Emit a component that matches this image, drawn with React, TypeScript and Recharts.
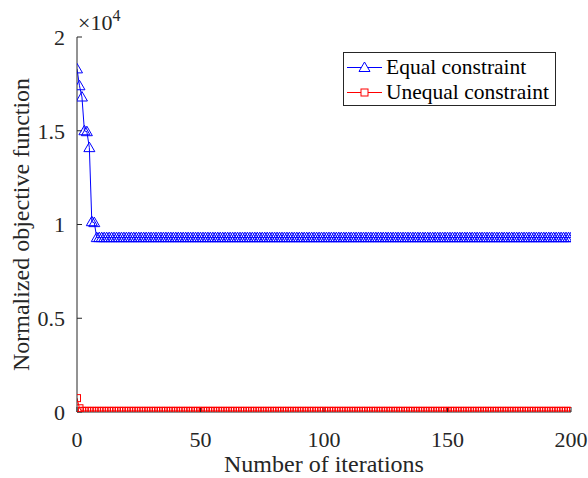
import { LineChart, Line, XAxis, YAxis, Legend, Label } from "recharts";

// normalized objective per iteration (iteration = index, 0..200)
const equalConstraint = [
    18300, 17400, 16800, 15000, 14950, 14100, 10150, 10100, 9300, 9300,
    9300, 9300, 9300, 9300, 9300, 9300, 9300, 9300, 9300, 9300,
    9300, 9300, 9300, 9300, 9300, 9300, 9300, 9300, 9300, 9300,
    9300, 9300, 9300, 9300, 9300, 9300, 9300, 9300, 9300, 9300,
    9300, 9300, 9300, 9300, 9300, 9300, 9300, 9300, 9300, 9300,
    9300, 9300, 9300, 9300, 9300, 9300, 9300, 9300, 9300, 9300,
    9300, 9300, 9300, 9300, 9300, 9300, 9300, 9300, 9300, 9300,
    9300, 9300, 9300, 9300, 9300, 9300, 9300, 9300, 9300, 9300,
    9300, 9300, 9300, 9300, 9300, 9300, 9300, 9300, 9300, 9300,
    9300, 9300, 9300, 9300, 9300, 9300, 9300, 9300, 9300, 9300,
    9300, 9300, 9300, 9300, 9300, 9300, 9300, 9300, 9300, 9300,
    9300, 9300, 9300, 9300, 9300, 9300, 9300, 9300, 9300, 9300,
    9300, 9300, 9300, 9300, 9300, 9300, 9300, 9300, 9300, 9300,
    9300, 9300, 9300, 9300, 9300, 9300, 9300, 9300, 9300, 9300,
    9300, 9300, 9300, 9300, 9300, 9300, 9300, 9300, 9300, 9300,
    9300, 9300, 9300, 9300, 9300, 9300, 9300, 9300, 9300, 9300,
    9300, 9300, 9300, 9300, 9300, 9300, 9300, 9300, 9300, 9300,
    9300, 9300, 9300, 9300, 9300, 9300, 9300, 9300, 9300, 9300,
    9300, 9300, 9300, 9300, 9300, 9300, 9300, 9300, 9300, 9300,
    9300, 9300, 9300, 9300, 9300, 9300, 9300, 9300, 9300, 9300,
    9300,
];

const unequalConstraint = [
    740, 200, 60, 60, 60, 60, 60, 60, 60, 60,
    60, 60, 60, 60, 60, 60, 60, 60, 60, 60,
    60, 60, 60, 60, 60, 60, 60, 60, 60, 60,
    60, 60, 60, 60, 60, 60, 60, 60, 60, 60,
    60, 60, 60, 60, 60, 60, 60, 60, 60, 60,
    60, 60, 60, 60, 60, 60, 60, 60, 60, 60,
    60, 60, 60, 60, 60, 60, 60, 60, 60, 60,
    60, 60, 60, 60, 60, 60, 60, 60, 60, 60,
    60, 60, 60, 60, 60, 60, 60, 60, 60, 60,
    60, 60, 60, 60, 60, 60, 60, 60, 60, 60,
    60, 60, 60, 60, 60, 60, 60, 60, 60, 60,
    60, 60, 60, 60, 60, 60, 60, 60, 60, 60,
    60, 60, 60, 60, 60, 60, 60, 60, 60, 60,
    60, 60, 60, 60, 60, 60, 60, 60, 60, 60,
    60, 60, 60, 60, 60, 60, 60, 60, 60, 60,
    60, 60, 60, 60, 60, 60, 60, 60, 60, 60,
    60, 60, 60, 60, 60, 60, 60, 60, 60, 60,
    60, 60, 60, 60, 60, 60, 60, 60, 60, 60,
    60, 60, 60, 60, 60, 60, 60, 60, 60, 60,
    60, 60, 60, 60, 60, 60, 60, 60, 60, 60,
    60,
];

const xTicks = [0, 50, 100, 150, 200];
const yTicks = [0, 5000, 10000, 15000, 20000];
const yTickLabels = ["0", "0.5", "1", "1.5", "2"];

const FONT = '"Liberation Serif", "Times New Roman", serif';
const AXIS = "#262626";
const BLUE = "#0000ff";
const RED = "#ff0000";

const data = equalConstraint.map((v, i) => ({
    iter: i,
    equal: v,
    unequal: unequalConstraint[i],
}));

const renderTriangle = (props: any) => {
    const { cx, cy, index } = props;
    return (
        <path
            key={`tri-${index}`}
            d={`M${cx},${cy - 5.5}L${cx + 5.5},${cy + 4}L${cx - 5.5},${cy + 4}Z`}
            fill="none"
            stroke={BLUE}
            strokeWidth={1}
        />
    );
};

const renderSquare = (props: any) => {
    const { cx, cy, index } = props;
    return (
        <rect
            key={`sq-${index}`}
            x={cx - 3.5}
            y={cy - 3.5}
            width={7}
            height={7}
            fill="none"
            stroke={RED}
            strokeWidth={1}
        />
    );
};

const legendItems = [
    { name: "Equal constraint", color: BLUE, marker: "tri" },
    { name: "Unequal constraint", color: RED, marker: "sq" },
];

const LegendBox = () => (
    <div
        style={{
            border: `1px solid ${AXIS}`,
            background: "#fff",
            width: 211,
            height: 52,
            fontFamily: FONT,
            fontSize: 21.5,
            color: "#000",
            boxSizing: "content-box",
        }}
    >
        {legendItems.map((item, i) => (
            <div
                key={item.name}
                style={{
                    position: "absolute",
                    left: 1,
                    top: 1 + 2 + i * 25,
                    height: 25,
                    display: "flex",
                    alignItems: "center",
                    whiteSpace: "nowrap",
                }}
            >
                <svg width={40} height={25}>
                    <line x1={3} x2={38} y1={12.5} y2={12.5} stroke={item.color} />
                    {item.marker === "tri" ? (
                        <path d="M20.5,7L26,16.5L15,16.5Z" fill="#fff" stroke={item.color} />
                    ) : (
                        <rect x={17} y={9} width={7} height={7} fill="#fff" stroke={item.color} />
                    )}
                </svg>
                <span style={{ marginLeft: 2, lineHeight: "25px" }}>{item.name}</span>
            </div>
        ))}
    </div>
);

export default function App() {
    return (
        <div style={{ position: "absolute", left: 0, top: 0, width: 588, height: 478, background: "#fff" }}>
            <LineChart
                width={588}
                height={478}
                data={data}
                margin={{ top: 37, right: 17, bottom: 0, left: 0 }}
                style={{ fontFamily: FONT }}
            >
                <XAxis
                    dataKey="iter"
                    type="number"
                    domain={[0, 200]}
                    ticks={xTicks}
                    height={66}
                    tickSize={-5}
                    tickMargin={24}
                    stroke={AXIS}
                    tick={{ fill: "#262626", fontSize: 22, fontFamily: FONT }}
                    allowDataOverflow
                >
                    <Label
                        content={(props: any) => {
                            const vb = props.viewBox;
                            return (
                                <text
                                    x={vb.x + vb.width / 2}
                                    y={472}
                                    textAnchor="middle"
                                    fontSize={24}
                                    fontFamily={FONT}
                                    fill="#262626"
                                >
                                    Number of iterations
                                </text>
                            );
                        }}
                    />
                </XAxis>
                <XAxis
                    xAxisId="top"
                    orientation="top"
                    type="number"
                    domain={[0, 200]}
                    ticks={xTicks}
                    height={0}
                    mirror
                    tickSize={5}
                    stroke={AXIS}
                    tickFormatter={() => ""}
                />
                <YAxis
                    type="number"
                    domain={[0, 20000]}
                    ticks={yTicks}
                    width={77}
                    tickSize={-5}
                    tickMargin={17}
                    stroke={AXIS}
                    tick={{ fill: "#262626", fontSize: 22, fontFamily: FONT }}
                    tickFormatter={(v: number) => yTickLabels[yTicks.indexOf(v)]}
                    allowDataOverflow
                >
                    <Label
                        content={(props: any) => {
                            const vb = props.viewBox;
                            const cy = vb.y + vb.height / 2;
                            return (
                                <text
                                    x={29}
                                    y={cy}
                                    transform={`rotate(-90 29 ${cy})`}
                                    textAnchor="middle"
                                    fontSize={24}
                                    fontFamily={FONT}
                                    fill="#262626"
                                >
                                    Normalized objective function
                                </text>
                            );
                        }}
                    />
                </YAxis>
                <YAxis
                    yAxisId="right"
                    orientation="right"
                    type="number"
                    domain={[0, 20000]}
                    ticks={yTicks}
                    width={0}
                    mirror
                    tickSize={5}
                    stroke={AXIS}
                    tickFormatter={() => ""}
                />
                <Legend
                    layout="vertical"
                    align="center"
                    verticalAlign="middle"
                    content={() => <LegendBox />}
                    wrapperStyle={{ top: 52, left: 343, width: 213, height: 54 }}
                />
                <Line
                    dataKey="equal"
                    name="Equal constraint"
                    stroke={BLUE}
                    strokeWidth={1}
                    dot={renderTriangle}
                    activeDot={false}
                    isAnimationActive={false}
                />
                <Line
                    dataKey="unequal"
                    name="Unequal constraint"
                    stroke={RED}
                    strokeWidth={1}
                    dot={renderSquare}
                    activeDot={false}
                    isAnimationActive={false}
                />
            </LineChart>
            <svg
                width={200}
                height={40}
                style={{ position: "absolute", left: 0, top: 0, pointerEvents: "none" }}
            >
                <text x={78} y={30} fontSize={22} fontFamily={FONT} fill="#262626">
                    ×10
                    <tspan dy={-9} fontSize={16}>
                        4
                    </tspan>
                </text>
            </svg>
        </div>
    );
}
